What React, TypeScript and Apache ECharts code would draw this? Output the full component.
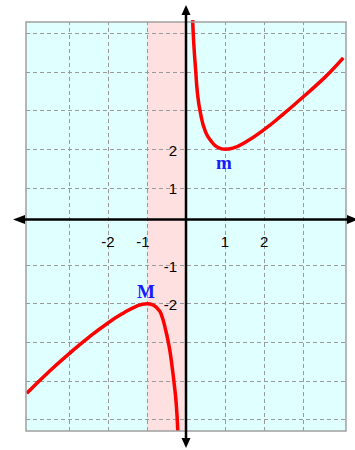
import React, { useEffect, useRef } from "react";
import * as echarts from "echarts";

// f(x) = x + 1/x (right branch, x > 0)
const rightBranchX = [0.17, 0.2, 0.25, 0.29, 0.365, 0.5, 0.67, 0.8, 1.0, 1.2, 1.5, 2.0, 2.5, 2.97, 3.35, 3.69, 4.03];
const rightBranchY = [5.35, 4.73, 4.02, 3.49, 2.97, 2.45, 2.18, 2.06, 2.0, 2.03, 2.17, 2.51, 2.92, 3.33, 3.67, 4.0, 4.37];
// left branch, x < 0
const leftBranchX = [-4.08, -3.5, -3.0, -2.5, -2.0, -1.6, -1.3, -1.0, -0.85, -0.72, -0.64, -0.52, -0.43, -0.36, -0.3, -0.25, -0.21];
const leftBranchY = [-4.32, -3.75, -3.3, -2.88, -2.5, -2.24, -2.08, -2.0, -2.03, -2.14, -2.26, -2.69, -3.12, -3.6, -4.1, -4.6, -5.3];

const xGridValues = [-3, -2, -1, 1, 2, 3];
const yGridValues = [-5, -4, -3, -2, -1, 1, 2, 3, 4, 5];
const xTickLabels = [-2, -1, 1, 2];
const yTickLabels = [2, 1, -1, -2];
const bandFrom = -1;
const bandTo = 0;
const extremaNames = ["M", "m"];
const extremaX = [-1, 1];
const extremaY = [-2, 2];

const X_MIN = -4.1;
const X_MAX = 4.1;
const Y_MIN = -5.3;
const Y_MAX = 5.3;
const X_AXIS_LEVEL = 0.18; // where the drawn horizontal axis sits in the picture

export default function App() {
  const ref = useRef<HTMLDivElement>(null);
  useEffect(() => {
    if (!ref.current) return;
    const chart = echarts.init(ref.current, null, { renderer: "svg", width: 355, height: 450 });
    const right = rightBranchX.map((x, i) => [x, rightBranchY[i]]);
    const left = leftBranchX.map((x, i) => [x, leftBranchY[i]]);
    const dash = { color: "#9a9a9a", width: 1, type: [4, 3] as any };
    const curve = {
      type: "line",
      showSymbol: false,
      smooth: 0.5,
      clip: false,
      z: 5,
      lineStyle: { color: "#ff0000", width: 3.5 },
    };
    chart.setOption({
      animation: false,
      backgroundColor: "#ffffff",
      grid: {
        left: 26,
        top: 22,
        width: 320,
        height: 409,
        show: true,
        backgroundColor: "#e0ffff",
        borderColor: "#a0a0a0",
        borderWidth: 0,
      },
      xAxis: { type: "value", min: X_MIN, max: X_MAX, show: false },
      yAxis: { type: "value", min: Y_MIN, max: Y_MAX, show: false },
      series: [
        {
          type: "line",
          data: [],
          silent: true,
          markArea: {
            silent: true,
            itemStyle: { color: "#ffe0e0", opacity: 1 },
            data: [[{ xAxis: bandFrom }, { xAxis: bandTo }]],
          },
          markLine: {
            silent: true,
            symbol: "none",
            label: { show: false },
            lineStyle: dash,
            data: [
              ...xGridValues.map((v) => ({ xAxis: v })),
              ...yGridValues.map((v) => ({ yAxis: v })),
            ],
          },
        },
        { ...curve, data: right },
        { ...curve, data: left },
      ],
    });

    const px = (x: number, y: number) => chart.convertToPixel({ gridIndex: 0 }, [x, y]) as number[];
    const tl = px(X_MIN, Y_MAX);
    const br = px(X_MAX, Y_MIN);
    const ax = px(0, X_AXIS_LEVEL);
    const ay = ax[1];
    const ox = ax[0];
    const axisStyle = { stroke: "#000", lineWidth: 2.5 };
    const elements: any[] = [
      {
        type: "rect",
        z: 40,
        silent: true,
        shape: { x: tl[0], y: tl[1], width: br[0] - tl[0], height: br[1] - tl[1] },
        style: { fill: "none", stroke: "#a0a0a0", lineWidth: 1.5 },
      },
      { type: "line", z: 50, silent: true, shape: { x1: tl[0] - 6, y1: ay, x2: br[0] + 4, y2: ay }, style: axisStyle },
      { type: "line", z: 50, silent: true, shape: { x1: ox, y1: tl[1] - 10, x2: ox, y2: br[1] + 10 }, style: axisStyle },
      {
        type: "polygon", z: 51, silent: true,
        shape: { points: [[tl[0] - 13, ay], [tl[0] - 1, ay - 4.5], [tl[0] - 1, ay + 4.5]] },
        style: { fill: "#000" },
      },
      {
        type: "polygon", z: 51, silent: true,
        shape: { points: [[br[0] + 12, ay], [br[0] + 1, ay - 4.5], [br[0] + 1, ay + 4.5]] },
        style: { fill: "#000" },
      },
      {
        type: "polygon", z: 51, silent: true,
        shape: { points: [[ox, tl[1] - 17], [ox - 4.5, tl[1] - 7], [ox + 4.5, tl[1] - 7]] },
        style: { fill: "#000" },
      },
      {
        type: "polygon", z: 51, silent: true,
        shape: { points: [[ox, br[1] + 17], [ox - 4.5, br[1] + 7], [ox + 4.5, br[1] + 7]] },
        style: { fill: "#000" },
      },
    ];
    const tickFont = "15px 'Liberation Sans', Arial, sans-serif";
    xTickLabels.forEach((v) => {
      const p = px(v, X_AXIS_LEVEL);
      elements.push({
        type: "text", z: 60, silent: true, x: p[0] + (v === -1 ? -4 : 0), y: ay + 22,
        style: { text: String(v), fill: "#000", font: tickFont, align: "center", verticalAlign: "middle", textAlign: "center", textVerticalAlign: "middle" },
      });
    });
    yTickLabels.forEach((v) => {
      const p = px(0, v);
      elements.push({
        type: "text", z: 60, silent: true, x: ox - 9, y: p[1] + 1,
        style: { text: String(v), fill: "#000", font: tickFont, align: "right", verticalAlign: "middle", textAlign: "right", textVerticalAlign: "middle" },
      });
    });
    extremaNames.forEach((name, i) => {
      const p = px(extremaX[i], extremaY[i]);
      const dy = extremaY[i] < 0 ? -12 : 13;
      elements.push({
        type: "text", z: 60, silent: true, x: p[0] - 1, y: p[1] + dy,
        style: {
          text: name, fill: "#1a1aff",
          font: "bold 19px 'Liberation Serif', 'Times New Roman', serif",
          align: "center", verticalAlign: "middle", textAlign: "center", textVerticalAlign: "middle",
        },
      });
    });
    chart.setOption({ graphic: { elements } });
    return () => chart.dispose();
  }, []);
  return <div ref={ref} style={{ position: "fixed", left: 0, top: 0, width: 355, height: 450 }} />;
}
